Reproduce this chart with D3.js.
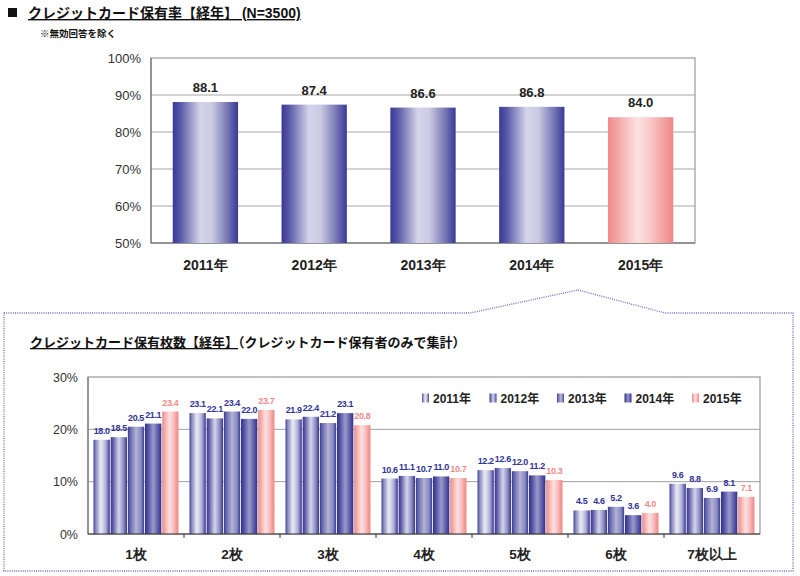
<!DOCTYPE html>
<html><head><meta charset="utf-8">
<script src="https://cdn.jsdelivr.net/npm/d3@7"></script>
<style>
html,body{margin:0;padding:0;background:#fff;}
svg{display:block;font-family:"Liberation Sans","Noto Sans CJK JP",sans-serif;}
</style></head>
<body>
<script>
// ---- data ----
const years = ["2011年","2012年","2013年","2014年","2015年"];
const rate = [88.1, 87.4, 86.6, 86.8, 84.0];
const rateTicks = [50, 60, 70, 80, 90, 100];

const cardCats = ["1枚","2枚","3枚","4枚","5枚","6枚","7枚以上"];
const s2011 = [18.0, 23.1, 21.9, 10.6, 12.2, 4.5, 9.6];
const s2012 = [18.5, 22.1, 22.4, 11.1, 12.6, 4.6, 8.8];
const s2013 = [20.5, 23.4, 21.2, 10.7, 12.0, 5.2, 6.9];
const s2014 = [21.1, 22.0, 23.1, 11.0, 11.2, 3.6, 8.1];
const s2015 = [23.4, 23.7, 20.8, 10.7, 10.3, 4.0, 7.1];
const cardTicks = [0, 10, 20, 30];

const series = [s2011, s2012, s2013, s2014, s2015];

const W = 800, H = 576;
const svg = d3.select("body").append("svg").attr("width", W).attr("height", H);
const defs = svg.append("defs");

function grad(id, stops) {
  const g = defs.append("linearGradient").attr("id", id).attr("x1", 0).attr("x2", 1).attr("y1", 0).attr("y2", 0);
  stops.forEach(s => g.append("stop").attr("offset", s[0]).attr("stop-color", s[1]));
}
grad("gBlue", [[0,"#38389a"],[0.12,"#5a5aa8"],[0.42,"#d4d4ea"],[0.6,"#cacae2"],[0.85,"#7272b2"],[1,"#38389a"]]);
grad("gPink", [[0,"#f08a8a"],[0.45,"#fde0e0"],[0.6,"#fad0d0"],[1,"#ef8686"]]);
grad("g2011", [[0,"#3a3a96"],[0.1,"#7a7ab8"],[0.45,"#ececf6"],[0.75,"#b0b0d4"],[1,"#3a3a96"]]);
grad("g2012", [[0,"#36368f"],[0.12,"#5656a6"],[0.5,"#d6d6ea"],[0.8,"#8a8ac0"],[1,"#36368f"]]);
grad("g2013", [[0,"#36368f"],[0.12,"#6262aa"],[0.5,"#b2b2d6"],[0.8,"#8a8abf"],[1,"#38389a"]]);
grad("g2014", [[0,"#30308c"],[0.15,"#4a4aa0"],[0.5,"#9a9aca"],[0.8,"#5a5aa8"],[1,"#30308c"]]);
grad("g2015", [[0,"#f08a8a"],[0.45,"#fde0e0"],[0.6,"#fad0d0"],[1,"#ef8686"]]);
const serFill = ["url(#g2011)","url(#g2012)","url(#g2013)","url(#g2014)","url(#g2015)"];
const lblColor = ["#333399","#333399","#333399","#333399","#f08a8a"];

// ---- titles ----
svg.append("rect").attr("x", 8).attr("y", 8).attr("width", 9).attr("height", 9).attr("fill", "#111");
svg.append("text").attr("x", 28).attr("y", 18).attr("font-size", 14).attr("font-weight", "bold")
  .attr("fill", "#111").attr("text-decoration", "underline")
  .text("クレジットカード保有率【経年】 (N=3500)");
svg.append("text").attr("x", 40).attr("y", 37).attr("font-size", 9.5).attr("font-weight", "bold")
  .attr("fill", "#111").text("※無効回答を除く");

// ---- top chart ----
const t = {l: 151, r: 695, t: 58, b: 243};
const xT = d3.scaleBand().domain(years).range([t.l, t.r]).paddingInner(0.4).paddingOuter(0.2);
const yT = d3.scaleLinear().domain([50, 100]).range([t.b, t.t]);

const gT = svg.append("g");
gT.selectAll("line.grid").data(rateTicks.filter(d => d > 50 && d < 100)).join("line")
  .attr("x1", t.l).attr("x2", t.r).attr("y1", d => yT(d)).attr("y2", d => yT(d))
  .attr("stroke", "#a8a8a8").attr("stroke-width", 1);
gT.append("rect").attr("x", t.l).attr("y", t.t).attr("width", t.r - t.l).attr("height", t.b - t.t)
  .attr("fill", "none").attr("stroke", "#9a9a9a").attr("stroke-width", 1.2);
gT.append("line").attr("x1", t.l).attr("x2", t.l).attr("y1", t.t).attr("y2", t.b).attr("stroke", "#666");
gT.append("line").attr("x1", t.l).attr("x2", t.r).attr("y1", t.b).attr("y2", t.b).attr("stroke", "#666");

const yAxT = d3.axisLeft(yT).tickValues(rateTicks).tickFormat(d => d + "%").tickSize(0).tickPadding(10);
const ay = gT.append("g").attr("transform", `translate(${t.l},0)`).call(yAxT);
ay.select(".domain").remove();
ay.selectAll("text").attr("font-size", 13).attr("fill", "#333").attr("font-family", "Liberation Sans, sans-serif");

gT.selectAll("rect.bar").data(rate).join("rect")
  .attr("x", (d, i) => xT(years[i])).attr("width", xT.bandwidth())
  .attr("y", d => yT(d)).attr("height", d => yT(50) - yT(d))
  .attr("fill", (d, i) => i === 4 ? "url(#gPink)" : "url(#gBlue)");
gT.selectAll("text.val").data(rate).join("text")
  .attr("x", (d, i) => xT(years[i]) + xT.bandwidth() / 2).attr("y", d => yT(d) - 10)
  .attr("text-anchor", "middle").attr("font-size", 13).attr("font-weight", "bold").attr("fill", "#222")
  .text(d => d.toFixed(1));

const xAxT = d3.axisBottom(xT).tickSize(0).tickPadding(17);
const ax = gT.append("g").attr("transform", `translate(0,${t.b})`).call(xAxT);
ax.select(".domain").remove();
ax.selectAll("text").attr("font-size", 14).attr("font-weight", "bold").attr("fill", "#222");

// ---- dotted callout box ----
svg.append("path")
  .attr("d", "M4,313 H470 L578,290 L665,313 H793 V571 H4 Z")
  .attr("fill", "none").attr("stroke", "#6f6fb5").attr("stroke-width", 1.3)
  .attr("stroke-dasharray", "1,1.2");

// ---- bottom title ----
const bt = svg.append("text").attr("x", 30).attr("y", 347).attr("font-size", 13).attr("font-weight", "bold").attr("fill", "#111");
bt.append("tspan").attr("text-decoration", "underline").text("クレジットカード保有枚数【経年】");
bt.append("tspan").text("（クレジットカード保有者のみで集計）");

// ---- bottom chart ----
const b = {l: 88, r: 760, t: 377, b: 534};
const x0 = d3.scaleBand().domain(cardCats).range([b.l, b.r]).paddingInner(0.115).paddingOuter(0.0575);
const x1 = d3.scaleBand().domain(d3.range(5)).range([0, x0.bandwidth()]).paddingInner(0.05);
const yB = d3.scaleLinear().domain([0, 30]).range([b.b, b.t]);

const gB = svg.append("g");
gB.selectAll("line.grid").data(cardTicks.filter(d => d > 0 && d < 30)).join("line")
  .attr("x1", b.l).attr("x2", b.r).attr("y1", d => yB(d)).attr("y2", d => yB(d))
  .attr("stroke", "#a0a0a0").attr("stroke-width", 1);
gB.append("rect").attr("x", b.l).attr("y", b.t).attr("width", b.r - b.l).attr("height", b.b - b.t)
  .attr("fill", "none").attr("stroke", "#9a9a9a").attr("stroke-width", 1.2);
gB.append("line").attr("x1", b.l).attr("x2", b.l).attr("y1", b.t).attr("y2", b.b).attr("stroke", "#666");

const yAxB = d3.axisLeft(yB).tickValues(cardTicks).tickFormat(d => d + "%").tickSize(0).tickPadding(10);
const ayB = gB.append("g").attr("transform", `translate(${b.l},0)`).call(yAxB);
ayB.select(".domain").remove();
ayB.selectAll("text").attr("font-size", 12.5).attr("fill", "#333").attr("font-family", "Liberation Sans, sans-serif");

const groups = gB.selectAll("g.grp").data(cardCats).join("g")
  .attr("transform", d => `translate(${x0(d)},0)`);
series.forEach((s, si) => {
  groups.append("rect")
    .attr("x", x1(si)).attr("width", x1.bandwidth())
    .attr("y", (d, ci) => yB(s[ci])).attr("height", (d, ci) => yB(0) - yB(s[ci]))
    .attr("fill", serFill[si]);
  groups.append("text")
    .attr("x", x1(si) + x1.bandwidth() / 2).attr("y", (d, ci) => yB(s[ci]) - 6)
    .attr("text-anchor", "middle").attr("font-size", 9).attr("font-weight", "bold")
    .attr("letter-spacing", -0.4).attr("fill", lblColor[si])
    .text((d, ci) => s[ci].toFixed(1));
});

// baseline + category separator ticks
gB.append("line").attr("x1", b.l).attr("x2", b.r).attr("y1", b.b).attr("y2", b.b).attr("stroke", "#333").attr("stroke-width", 1.2);
gB.selectAll("line.sep").data(cardCats.slice(1)).join("line")
  .attr("x1", d => x0(d) - x0.step() * 0.0575).attr("x2", d => x0(d) - x0.step() * 0.0575)
  .attr("y1", b.b).attr("y2", b.b + 4).attr("stroke", "#333");

const xAxB = d3.axisBottom(x0).tickSize(0).tickPadding(15);
const axB = gB.append("g").attr("transform", `translate(0,${b.b})`).call(xAxB);
axB.select(".domain").remove();
axB.selectAll("text").attr("font-size", 13.5).attr("font-weight", "bold").attr("fill", "#222");

// legend
const legX = d3.scalePoint().domain(years).range([422, 692]);
const leg = gB.selectAll("g.leg").data(years).join("g")
  .attr("transform", d => `translate(${legX(d)},398)`);
leg.append("rect").attr("x", 0).attr("y", -4.5).attr("width", 7).attr("height", 9)
  .attr("fill", (d, i) => serFill[i]);
leg.append("text").attr("x", 11).attr("y", 4.5).attr("font-size", 12).attr("font-weight", "bold")
  .attr("fill", "#222").text(d => d);
</script>
</body></html>
